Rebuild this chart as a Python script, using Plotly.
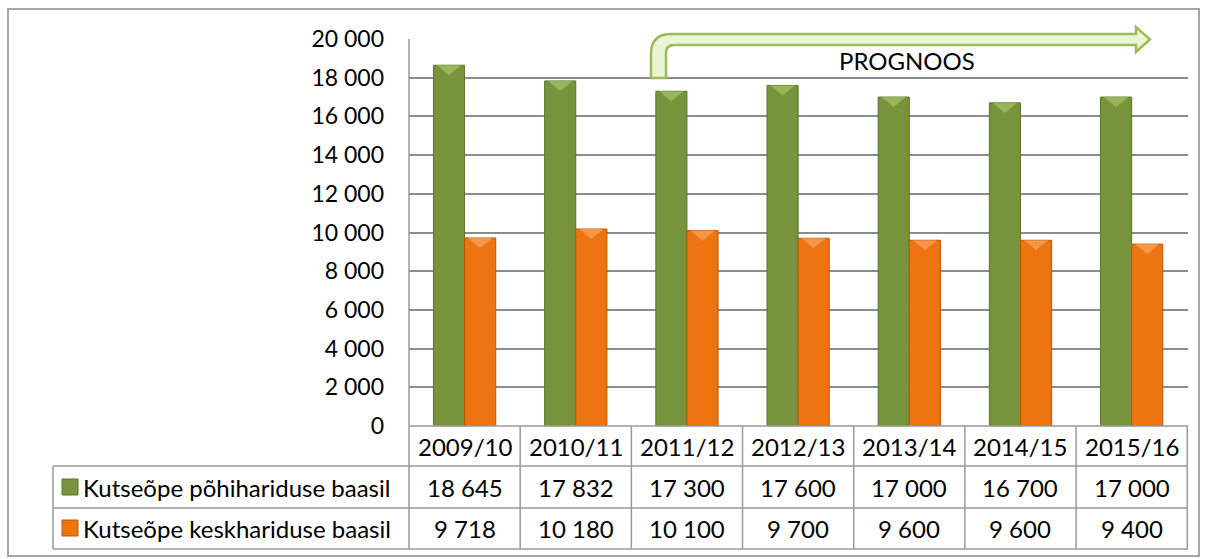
import plotly.graph_objects as go

W, H = 1207, 559

categories = ["2009/10", "2010/11", "2011/12", "2012/13", "2013/14", "2014/15", "2015/16"]
series_names = ["Kutseõpe põhihariduse baasil", "Kutseõpe keskhariduse baasil"]
pohi_values = [18645, 17832, 17300, 17600, 17000, 16700, 17000]
kesk_values = [9718, 10180, 10100, 9700, 9600, 9600, 9400]
y_ticks = [0, 2000, 4000, 6000, 8000, 10000, 12000, 14000, 16000, 18000, 20000]
forecast_label = "PROGNOOS"

FONT = "Lato"
FS = 24
GREEN = "#77933C"
GREEN_D = "#5B7429"
ORANGE = "#EE7311"
ORANGE_D = "#B95608"
GRID = "#8C8C8C"
TLINE = "#9A9A9A"


def X(px):
    return px / W


def Y(py):
    return 1 - py / H


def fmt(v):
    return f"{v:,}".replace(",", " ")


fig = go.Figure()
fig.add_trace(go.Bar(x=categories, y=pohi_values, name=series_names[0],
                     marker=dict(color=GREEN, line=dict(color=GREEN_D, width=1))))
fig.add_trace(go.Bar(x=categories, y=kesk_values, name=series_names[1],
                     marker=dict(color=ORANGE, line=dict(color=ORANGE_D, width=1))))

shapes = []
ann = []

# outer frame
shapes.append(dict(type="rect", xref="paper", yref="paper", x0=X(8), x1=X(1199), y0=Y(556), y1=Y(9),
                   line=dict(color="#A6A6A6", width=2), layer="below"))

# table / axis lines
def hline(py, x0, x1):
    shapes.append(dict(type="line", xref="paper", yref="paper", x0=X(x0), x1=X(x1), y0=Y(py), y1=Y(py),
                       line=dict(color=TLINE, width=1.5)))


hline(426, 409, 1188)
for py in (466, 508, 549):
    hline(py, 53, 1188)
shapes.append(dict(type="line", xref="paper", yref="paper", x0=X(53), x1=X(53), y0=Y(466), y1=Y(549),
                   line=dict(color=TLINE, width=1.5)))
shapes.append(dict(type="line", xref="paper", yref="paper", x0=X(409), x1=X(409), y0=Y(39), y1=Y(549),
                   line=dict(color=TLINE, width=1.5)))
for i in range(len(categories)):
    shapes.append(dict(type="line", xref="x", yref="paper", x0=i + 0.5, x1=i + 0.5, y0=Y(426), y1=Y(549),
                       line=dict(color=TLINE, width=1.5)))

# bevel highlights on top of bars (data-driven)
half = 0.28 / 2
for i in range(len(categories)):
    for vals, off, col in ((pohi_values, -0.14, "#A4C263"), (kesk_values, 0.14, "#F9A25A")):
        c = i + off
        v = vals[i]
        shapes.append(dict(type="path", xref="x", yref="y",
                           path=f"M {c-half+0.03},{v} L {c+half-0.03},{v} L {c},{v-520} Z",
                           fillcolor=col, line=dict(width=0), opacity=0.75))

TF = dict(family=FONT, size=FS, color="#000000")
for i, c in enumerate(categories):
    for py, txt in ((446, c), (487, fmt(pohi_values[i])), (528, fmt(kesk_values[i]))):
        ann.append(dict(x=c, y=Y(py), xref="x", yref="paper", text=txt, showarrow=False,
                        xanchor="center", yanchor="middle", font=TF))

for name, py, col, dcol in ((series_names[0], 487, GREEN, GREEN_D), (series_names[1], 528, ORANGE, ORANGE_D)):
    shapes.append(dict(type="rect", xref="paper", yref="paper", x0=X(62), x1=X(78), y0=Y(py + 8), y1=Y(py - 8),
                       fillcolor=col, line=dict(color=dcol, width=1)))
    ann.append(dict(x=X(81), y=Y(py), xref="paper", yref="paper", text=name, showarrow=False,
                    xanchor="left", yanchor="middle", font=TF))

path = (f"M {X(651)},{Y(78)} L {X(651)},{Y(54)} Q {X(651)},{Y(34)} {X(671)},{Y(34)} "
        f"L {X(1136)},{Y(34)} L {X(1136)},{Y(27)} L {X(1150)},{Y(39.5)} L {X(1136)},{Y(52)} "
        f"L {X(1136)},{Y(45)} L {X(674)},{Y(45)} Q {X(666)},{Y(45)} {X(666)},{Y(53)} "
        f"L {X(666)},{Y(78)} Z")
shapes.append(dict(type="path", xref="paper", yref="paper", path=path, fillcolor="#EAF6D3",
                   line=dict(color="#9BBB59", width=2.5)))
ann.append(dict(x=X(907), y=Y(60), xref="paper", yref="paper", text=forecast_label, showarrow=False,
                xanchor="center", yanchor="middle", font=dict(family=FONT, size=FS, color="#000000")))

fig.update_layout(
    width=W, height=H, autosize=False,
    margin=dict(l=0, r=0, t=0, b=0, pad=0, autoexpand=False),
    paper_bgcolor="white", plot_bgcolor="white",
    barmode="group", bargap=0.44, bargroupgap=0,
    showlegend=False,
    shapes=shapes, annotations=ann,
    font=dict(family=FONT, size=FS, color="#000000"),
    xaxis=dict(domain=[X(409), X(1188)], type="category", showticklabels=False, showgrid=False,
               showline=False, zeroline=False, ticks="", automargin=False),
    yaxis=dict(domain=[Y(426), Y(39)], range=[0, 20000], tickvals=y_ticks,
               ticktext=[fmt(v) for v in y_ticks], showgrid=True, gridcolor=GRID, gridwidth=1.5,
               zeroline=False, showline=False, ticks="", ticklabelstandoff=24, automargin=False,
               tickfont=dict(family=FONT, size=23, color="#000000")),
)

fig.write_html("out.html", config={"displayModeBar": False},
               post_script="document.body.style.margin='0';document.body.style.overflow='hidden';")
